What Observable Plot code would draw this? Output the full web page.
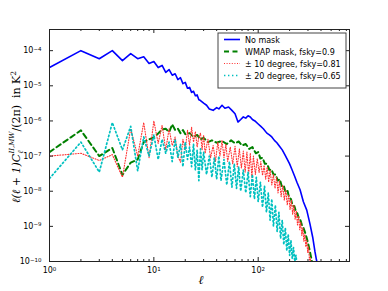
<!DOCTYPE html>
<html><head><meta charset="utf-8">
<script src="https://cdn.jsdelivr.net/npm/d3@7"></script>
<script src="https://cdn.jsdelivr.net/npm/@observablehq/plot@0.6"></script>
<style>body{margin:0;background:#fff}</style>
</head><body><div id="chart"></div>
<script>
// ---- data ----
const seriesNames = ["No mask", "WMAP mask, fsky=0.9", "\u00b1 10 degree, fsky=0.81", "\u00b1 20 degree, fsky=0.65"];

const ellNoMask = [1,2,3,4,5,6,7,8,9,10,11,12,13,14,15,16,17,18,19,20,21,22,23,24,25,26,27,28,30,32,34,37,40,42,45,48,52,56,60,64,68,72,76,80,84,88,93,100,106,112,121,128,135,143,151,160,170,180,189,200,211,223,235,252,271,292,313,333,350,362,372];
const valNoMask = [3.3e-5,1e-4,5.9e-5,1e-4,5.2e-5,8.2e-5,5.9e-5,6.7e-5,4.3e-5,4.9e-5,3.3e-5,3.8e-5,2.4e-5,2.9e-5,2.0e-5,2.2e-5,1.5e-5,1.7e-5,1.15e-5,1.25e-5,8.5e-6,9e-6,6.5e-6,7e-6,5.2e-6,5.5e-6,4e-6,3.8e-6,3.2e-6,2.8e-6,2.2e-6,2e-6,2.4e-6,2.2e-6,2.8e-6,2.3e-6,2.5e-6,2e-6,1.6e-6,9.3e-7,1.1e-6,1.3e-6,1.2e-6,1.4e-6,1.3e-6,1.1e-6,1e-6,8.2e-7,7e-7,6e-7,4.5e-7,4e-7,3.5e-7,2.8e-7,2.4e-7,1.9e-7,1.5e-7,1.1e-7,8.3e-8,6e-8,4.1e-8,2.7e-8,1.8e-8,1.1e-8,5e-9,2.9e-9,1.2e-9,4.9e-10,1.9e-10,1.1e-10,8e-11];

const ellWmap = [1,2,3,4,5,6,7,8,9,10,11,12,13,14,15,16,17,18,19,20,22,24,26,28,30,33,36,40,45,50,55,60,65,70,76,82,88,95,100,105,110,116,122,128,134,140,147,154,161,168,175,182,190,198,206,214,222,230,238,246,254,262,270,280,290,300,310,320,330];
const valWmap = [1.3e-7,5.4e-7,1e-7,1.7e-7,2.9e-8,6.5e-8,8e-8,2.5e-7,3e-7,3.4e-7,4.4e-7,5.7e-7,6e-7,4.8e-7,8e-7,5.5e-7,6e-7,4.5e-7,5.5e-7,4.2e-7,4.5e-7,3.5e-7,4e-7,3e-7,3.3e-7,2.5e-7,2.8e-7,2.4e-7,2.7e-7,2.2e-7,2.8e-7,2.3e-7,2.6e-7,2e-7,2.2e-7,1.6e-7,1.8e-7,1.2e-7,1.3e-7,8.5e-8,9e-8,6e-8,6e-8,4e-8,4.2e-8,3e-8,3e-8,2e-8,2.2e-8,1.4e-8,1.5e-8,1e-8,1.1e-8,6.5e-9,6e-9,3.8e-9,3.8e-9,2.6e-9,2.3e-9,1.6e-9,1.5e-9,1.1e-9,9.5e-10,7e-10,5e-10,3.4e-10,2.2e-10,1.4e-10,9e-11];

const ellDeg10 = [1,2,3,4,5,6,7,8,9,10,11,12,13,14,15,16,17,18,19,20,21,22,23,24,25,26,27,28,29,30,31,33,35,37,39,41,43,45,47,49,51,54,57,60,63,66,69,72,75,78,81,84,87,90,94,98,102,106,110,114,118,122,126,130,135,140,145,150,155,160,166,172,178,184,190,196,202,208,214,220,226,232,238,244,250,256,262,268,274,280,286,292,298,304,310,316,322];
const valDeg10 = [1e-7,1.2e-7,7.5e-8,1.1e-7,2.5e-8,6e-7,1e-7,9e-7,9e-8,1e-6,2.3e-7,7.5e-7,1.5e-7,6e-7,2e-7,3.5e-7,1e-7,6.7e-8,3e-7,1.5e-7,5.5e-7,2e-7,6.6e-7,2.5e-7,5e-7,1.8e-7,3.5e-7,4.5e-7,1.5e-7,4e-7,1.2e-7,3e-7,9e-8,2e-7,7e-8,2.5e-7,1e-7,2.8e-7,9e-8,2.2e-7,7e-8,1.8e-7,6e-8,1.9e-7,5e-8,1.6e-7,4.5e-8,1.4e-7,3.5e-8,1.3e-7,3e-8,1.2e-7,2.5e-8,1e-7,3e-8,8.5e-8,3.4e-8,7e-8,2.8e-8,5.5e-8,2.2e-8,4.9e-8,1.8e-8,4e-8,1.5e-8,3e-8,1.2e-8,2.5e-8,9e-9,2e-8,7e-9,1.5e-8,5.5e-9,1.1e-8,4e-9,8e-9,3e-9,5.5e-9,2.2e-9,4e-9,1.6e-9,2.8e-9,1.1e-9,2e-9,8e-10,1.3e-9,5.5e-10,9e-10,3.8e-10,6e-10,2.6e-10,4e-10,1.8e-10,2.6e-10,1.1e-10,1.3e-10,7e-11];

const ellDeg20 = [1,2,3,4,5,6,7,8,9,10,11,12,13,14,15,16,17,18,19,20,21,22,23,24,25,26,27,28,29,30,32,34,36,38,40,42,44,47,50,53,56,59,62,65,68,72,76,80,84,88,92,96,100,105,110,115,120,125,130,135,140,146,152,158,164,170,176,182,188,194,200,206,212,218,224,230,236];
const valDeg20 = [2.3e-8,2.5e-7,3.5e-8,9e-7,1.5e-7,7e-7,3.8e-8,3.5e-7,1e-7,4e-7,8e-8,3e-7,1.2e-7,2.5e-7,7e-8,3e-7,9e-8,2.2e-7,5e-8,2.5e-7,8e-8,1.8e-7,5e-8,2.2e-7,4e-8,1.5e-7,2e-8,1.6e-7,4e-8,1.3e-7,3e-8,1e-7,2.5e-8,9e-8,2.2e-8,1e-7,2e-8,8e-8,1.5e-8,7e-8,1.3e-8,6e-8,1.2e-8,5e-8,1e-8,4e-8,9e-9,3.5e-8,7e-9,3e-8,6e-9,2.5e-8,5e-9,1.8e-8,3.5e-9,1.4e-8,2.5e-9,9e-9,1.5e-9,6e-9,1e-9,4e-9,7e-10,2.5e-9,4.5e-10,1.5e-9,3e-10,9e-10,2e-10,6e-10,1.5e-10,4e-10,1.2e-10,2.5e-10,1e-10,1.5e-10,8e-11];

const xMajor = [1, 10, 100];
const xMinor = [2,3,4,5,6,7,8,9,20,30,40,50,60,70,80,90,200,300,400,500,600,700];
const yMajor = [1e-10,1e-9,1e-8,1e-7,1e-6,1e-5,1e-4];

// ---- build tables ----
const toRows = (ells, vals) => ells.map((l, i) => ({l, v: vals[i]}));
const rowsNoMask = toRows(ellNoMask, valNoMask);
const rowsWmap = toRows(ellWmap, valWmap);
const rowsDeg10 = toRows(ellDeg10, valDeg10);
const rowsDeg20 = toRows(ellDeg20, valDeg20);

const pow10 = d => "10^" + Math.round(Math.log10(d));

const W = 388, H = 291, mL = 49, mR = 39, mT = 29, mB = 30;
const fw = W - mL - mR, fh = H - mT - mB;

const styles = [
  {stroke: "#0000ff", strokeWidth: 1.6},
  {stroke: "#008000", strokeWidth: 2, strokeDasharray: "5,3.5"},
  {stroke: "#ff3030", strokeWidth: 1.1, strokeDasharray: "1,1.6"},
  {stroke: "#00c0c0", strokeWidth: 1.7, strokeDasharray: "1.4,2.6"}
];

const chart = Plot.plot({
  width: W, height: H,
  marginLeft: mL, marginRight: mR, marginTop: mT, marginBottom: mB,
  x: {type: "log", domain: [1, 750]},
  y: {type: "log", domain: [1e-10, 4e-4]},
  style: {fontFamily: "DejaVu Sans, sans-serif", fontSize: "8px", background: "#fff", color: "#000"},
  marks: [
    Plot.line(rowsNoMask, {x: "l", y: "v", ...styles[0], clip: true}),
    Plot.line(rowsWmap, {x: "l", y: "v", ...styles[1], clip: true}),
    Plot.line(rowsDeg10, {x: "l", y: "v", ...styles[2], clip: true}),
    Plot.line(rowsDeg20, {x: "l", y: "v", ...styles[3], clip: true}),
    Plot.frame({stroke: "#222", strokeWidth: 1}),
    Plot.ruleX(xMajor, {x: d => d, insetTop: fh - 4, stroke: "#222"}),
    Plot.ruleX(xMajor, {x: d => d, insetBottom: fh - 4, stroke: "#222"}),
    Plot.ruleX(xMinor, {x: d => d, insetTop: fh - 2, stroke: "#222"}),
    Plot.ruleX(xMinor, {x: d => d, insetBottom: fh - 2, stroke: "#222"}),
    Plot.ruleY(yMajor, {y: d => d, insetRight: fw - 4, stroke: "#222"}),
    Plot.ruleY(yMajor, {y: d => d, insetLeft: fw - 4, stroke: "#222"}),
    Plot.axisX(xMajor, {tickSize: 0, tickPadding: 6, tickFormat: pow10, label: null}),
    Plot.axisY(yMajor, {tickSize: 0, tickPadding: 8, tickFormat: pow10, label: null})
  ]
});
document.getElementById("chart").appendChild(chart);

const svg = d3.select(chart);
// superscript exponents on tick labels
svg.selectAll("text").each(function () {
  const t = d3.select(this);
  if (t.selectAll("tspan").size() > 0) return;
  const s = t.text();
  const m = /^10\^(-?\d+)$/.exec(s);
  if (!m) return;
  t.text("10");
  t.append("tspan").attr("dy", "-0.45em").style("font-size", "5.5px").text(m[1].replace("-", "\u2212"));
});
// y label
const yl = svg.append("text")
  .attr("transform", `translate(20,${mT + fh / 2 - 8}) rotate(-90)`)
  .attr("text-anchor", "middle")
  .style("font-family", "DejaVu Serif, serif").style("font-size", "11px").style("white-space", "pre");
yl.append("tspan").style("font-style", "italic").text("\u2113(\u2113 + 1)C");
yl.append("tspan").style("font-style", "italic").style("font-size", "7.5px").attr("dy", 3).text("\u2113");
yl.append("tspan").style("font-style", "italic").style("font-size", "7px").attr("dx", -3).attr("dy", -9).text("II,MW");
yl.append("tspan").attr("dy", 6).text("/(2\u03c0)  in K");
yl.append("tspan").style("font-size", "7.5px").attr("dy", -4).text("2");
// x label
svg.append("text").attr("x", mL + fw / 2 + 2).attr("y", 284).attr("text-anchor", "middle")
  .style("font-family", "DejaVu Serif, serif").style("font-style", "italic").style("font-size", "12px").text("\u2113");

// legend
const lg = svg.append("g").attr("text-anchor", "start");
lg.append("rect").attr("x", 218).attr("y", 33).attr("width", 128).attr("height", 55)
  .attr("fill", "#fff").attr("stroke", "#444").attr("stroke-width", 1);
seriesNames.forEach((name, i) => {
  const y = 39.5 + i * 12;
  const s = styles[i];
  lg.append("line").attr("x1", 224).attr("x2", 240).attr("y1", y).attr("y2", y)
    .attr("stroke", s.stroke).attr("stroke-width", s.strokeWidth)
    .attr("stroke-dasharray", s.strokeDasharray || null);
  lg.append("text").attr("x", 245).attr("y", y + 3).attr("text-anchor", "start")
    .style("font-family", "DejaVu Sans, sans-serif").style("font-size", "8px").text(name);
});
</script>
</body></html>
